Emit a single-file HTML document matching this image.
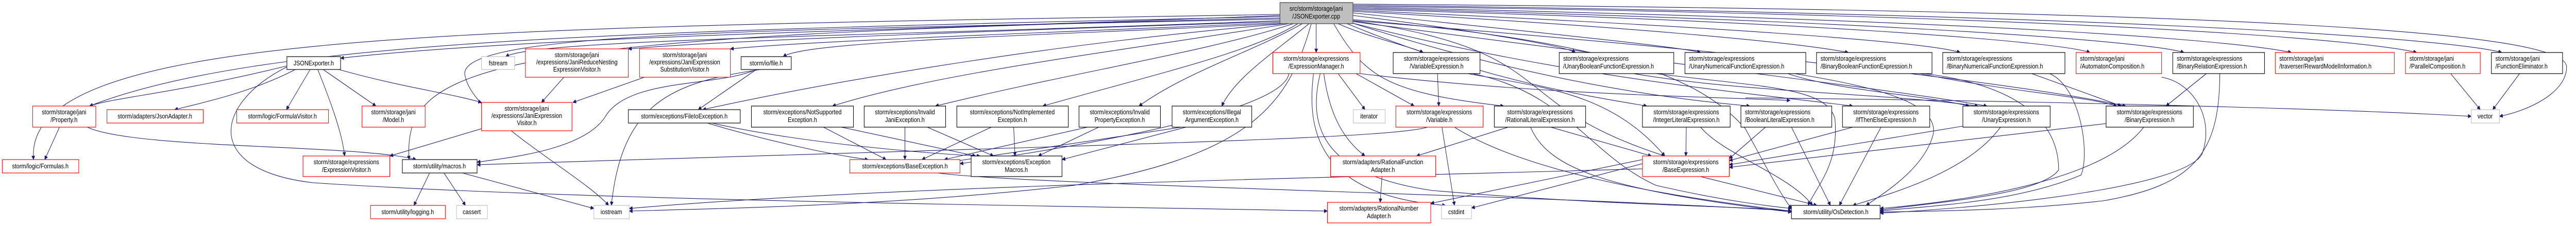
<!DOCTYPE html>
<html><head><meta charset="utf-8"><style>
html,body{margin:0;padding:0;background:#fff;width:100%;height:100%;overflow:hidden;}
svg{display:block;position:absolute;left:0;top:0;width:100%;height:100%;}
text{font-family:"Liberation Sans",sans-serif;font-size:12.5px;fill:#000;}
.e{fill:none;stroke:#191970;stroke-width:1.1;marker-end:url(#a);}
.b{fill:#fff;stroke:#000;stroke-width:1.2;}
.d{fill:#fff;stroke:#404040;stroke-width:1.6;}
.r{fill:#fff;stroke:#ff0000;stroke-width:1.2;}
.g{fill:#fff;stroke:#bfbfbf;stroke-width:1.2;}
</style></head><body>
<svg width="100%" height="100%" viewBox="0 0 5756 439" preserveAspectRatio="none" xmlns="http://www.w3.org/2000/svg">
<defs><marker id="a" viewBox="0 0 10 10" refX="10" refY="5" markerWidth="10" markerHeight="7" markerUnits="userSpaceOnUse" orient="auto"><path d="M0,0 L10,5 L0,10 z" fill="#191970" stroke="#191970"/></marker></defs>
<g>
<path class="e" d="M2860,30 C2000,60 1200,70 761,113"/>
<path class="e" d="M2860,28 C1000,55 50,60 75,310"/>
<path class="e" d="M2860,32 C1500,60 600,70 200,206"/>
<path class="e" d="M2860,35 C1100,70 900,120 914,310"/>
<path class="e" d="M2860,37 C1700,60 1000,60 1040,150 C1060,230 1300,340 1360,399"/>
<path class="e" d="M2860,40 C2000,70 1200,75 1130,110"/>
<path class="e" d="M2860,42 C2200,60 1600,80 1404,95"/>
<path class="e" d="M2860,44 C2300,65 1800,80 1632,95"/>
<path class="e" d="M2860,46 C2300,70 1800,80 1750,110"/>
<path class="e" d="M2870,46 C2400,80 1900,150 1570,213"/>
<path class="e" d="M2880,46 C2500,100 2100,140 1860,206"/>
<path class="e" d="M2890,46 C2700,100 2400,140 2090,206"/>
<path class="e" d="M2900,46 C2800,100 2600,140 2330,206"/>
<path class="e" d="M2910,46 C2800,100 2650,140 2545,206"/>
<path class="e" d="M2925,46 C2850,100 2760,150 2730,206"/>
<path class="e" d="M2930,46 C2880,200 2800,300 2400,360 C2000,400 1600,405 1406,410"/>
<path class="e" d="M2941,46 L2941,102"/>
<path class="e" d="M2990,46 C3050,70 3150,90 3180,102"/>
<path class="e" d="M3023,30 C3300,60 3500,90 3520,102"/>
<path class="e" d="M3023,25 C3400,60 3750,90 3800,102"/>
<path class="e" d="M3023,22 C3600,50 4000,80 4130,102"/>
<path class="e" d="M3023,20 C3800,50 4300,80 4380,102"/>
<path class="e" d="M3023,18 C4000,40 4600,80 4670,102"/>
<path class="e" d="M3023,16 C4200,40 4800,80 4880,102"/>
<path class="e" d="M3023,14 C4500,40 5000,80 5120,102"/>
<path class="e" d="M3023,12 C4700,30 5300,80 5400,102"/>
<path class="e" d="M3023,10 C4900,30 5500,80 5590,102"/>
<path class="e" d="M3023,8 C5000,20 5735,60 5735,130 C5735,180 5650,215 5585,226"/>
<path class="e" d="M2980,46 C3050,150 3100,180 3360,206"/>
<path class="e" d="M3010,46 C3300,150 3500,180 3680,206"/>
<path class="e" d="M3020,40 C3500,100 3350,200 3720,303"/>
<path class="e" d="M3023,45 C3400,150 3700,190 3910,206"/>
<path class="e" d="M3023,45 C3500,150 3900,180 4140,206"/>
<path class="e" d="M3023,42 C3700,120 4200,170 4440,206"/>
<path class="e" d="M3023,40 C3900,100 4500,160 4750,206"/>
<path class="e" d="M3023,38 C3600,80 3800,150 3900,250 C3950,330 3980,380 4003,405"/>
<path class="e" d="M641,128 C400,180 250,190 200,206"/>
<path class="e" d="M660,135 C560,180 450,200 390,213"/>
<path class="e" d="M693,135 L640,213"/>
<path class="e" d="M722,135 L840,206"/>
<path class="e" d="M710,135 C740,200 765,260 770,303"/>
<path class="e" d="M757,135 C900,170 1000,180 1076,199"/>
<path class="e" d="M641,130 C480,200 450,330 700,355 C1300,390 2400,400 2966,410"/>
<path class="e" d="M133,247 L100,310"/>
<path class="e" d="M195,247 C300,290 800,280 930,310"/>
<path class="e" d="M960,336 L925,399"/>
<path class="e" d="M992,336 L1040,399"/>
<path class="e" d="M1033,336 L1327,405"/>
<path class="e" d="M1260,150 L1210,199"/>
<path class="e" d="M1440,150 L1280,199"/>
<path class="e" d="M1076,250 L871,303"/>
<path class="e" d="M1690,135 L1560,213"/>
<path class="e" d="M1690,135 C1600,170 1400,150 1350,230 C1300,290 1150,305 1066,315"/>
<path class="e" d="M1700,135 C1500,160 1390,200 1366,399"/>
<path class="e" d="M1580,239 C1700,270 1850,300 1940,310"/>
<path class="e" d="M1590,239 C1800,280 2100,300 2190,303"/>
<path class="e" d="M1840,247 L1980,310"/>
<path class="e" d="M1880,247 L2180,303"/>
<path class="e" d="M2022,247 L2022,310"/>
<path class="e" d="M2072,247 L2220,303"/>
<path class="e" d="M2215,247 L2060,310"/>
<path class="e" d="M2265,247 L2268,303"/>
<path class="e" d="M2430,247 L2110,310"/>
<path class="e" d="M2455,247 L2320,303"/>
<path class="e" d="M2640,247 L2120,315"/>
<path class="e" d="M2650,247 L2373,310"/>
<path class="e" d="M2095,336 C2300,360 3500,380 4003,410"/>
<path class="e" d="M3190,247 C3100,270 2500,280 1066,320"/>
<path class="e" d="M2880,143 C2870,200 2600,260 2145,318"/>
<path class="e" d="M2990,143 L3050,213"/>
<path class="e" d="M3030,143 L3160,206"/>
<path class="e" d="M2958,143 C2970,220 3000,270 3050,303"/>
<path class="e" d="M2935,143 C2920,250 2940,380 3230,399"/>
<path class="e" d="M2950,143 C2920,250 2960,340 3200,370 C3600,400 3900,400 4003,410"/>
<path class="e" d="M3039,143 C3400,180 3700,185 4000,195"/>
<path class="e" d="M3212,143 L3215,206"/>
<path class="e" d="M3280,143 C3450,170 3600,180 3720,303"/>
<path class="e" d="M3290,143 C3500,180 3550,300 3700,360 C3850,390 3950,400 4003,405"/>
<path class="e" d="M3222,247 L3250,399"/>
<path class="e" d="M3250,247 C3400,330 3700,380 4003,410"/>
<path class="e" d="M3370,247 L3165,303"/>
<path class="e" d="M3465,247 L3690,303"/>
<path class="e" d="M3420,247 C3460,330 3600,370 4003,412"/>
<path class="e" d="M3768,247 L3767,303"/>
<path class="e" d="M3800,247 C3850,300 4000,340 4050,399"/>
<path class="e" d="M3670,310 L3197,395"/>
<path class="e" d="M3670,318 L3288,404"/>
<path class="e" d="M3800,343 L4060,399"/>
<path class="e" d="M3670,328 C3000,345 2000,360 1406,405"/>
<path class="e" d="M3088,343 L3084,393"/>
<path class="e" d="M3945,247 L3864,308"/>
<path class="e" d="M4003,247 L4090,399"/>
<path class="e" d="M4140,247 L3864,312"/>
<path class="e" d="M4203,247 L4110,399"/>
<path class="e" d="M4386,245 L3864,320"/>
<path class="e" d="M4470,247 C4400,330 4250,370 4140,399"/>
<path class="e" d="M4706,240 L3864,325"/>
<path class="e" d="M4790,247 C4700,350 4400,390 4201,405"/>
<path class="e" d="M3650,143 C3900,180 4200,180 4420,206"/>
<path class="e" d="M3700,143 C3950,170 4080,170 4100,230 C4110,320 4060,360 4040,399"/>
<path class="e" d="M3995,143 C4100,175 4300,185 4400,206"/>
<path class="e" d="M4010,143 C4200,170 4330,200 4320,260 C4300,330 4200,380 4170,399"/>
<path class="e" d="M4290,143 C4500,180 4650,185 4730,206"/>
<path class="e" d="M4300,143 C4550,170 4600,260 4600,330 C4560,380 4300,395 4201,408"/>
<path class="e" d="M4540,143 L4740,206"/>
<path class="e" d="M4580,143 C4650,170 4670,300 4650,340 C4500,395 4300,400 4201,410"/>
<path class="e" d="M4930,143 L4840,206"/>
<path class="e" d="M4960,143 C4960,300 4900,360 4700,390 C4500,410 4300,410 4201,412"/>
<path class="e" d="M4830,150 C4900,160 4950,230 4920,300 C4880,360 4500,400 4201,414"/>
<path class="e" d="M3900,190 C4500,195 5200,210 5522,226"/>
<path class="e" d="M5476,143 L5542,213"/>
<path class="e" d="M5630,143 L5570,213"/>
</g>
<g>
<rect x="2860" y="5" width="163" height="41" fill="#bfbfbf" stroke="#404040" stroke-width="1.2"/>
<text x="2941" y="21" text-anchor="middle">src/storm/storage/jani</text><text x="2941" y="36" text-anchor="middle">/JSONExporter.cpp</text>

<rect class="d" x="641" y="110" width="120" height="25"/><text x="701" y="127" text-anchor="middle">JSONExporter.h</text>
<rect class="r" x="73" y="206" width="141" height="41"/><text x="143" y="222" text-anchor="middle">storm/storage/jani</text><text x="143" y="237" text-anchor="middle">/Property.h</text>
<rect class="r" x="239" y="213" width="215" height="26"/><text x="346" y="230" text-anchor="middle">storm/adapters/JsonAdapter.h</text>
<rect class="r" x="529" y="213" width="205" height="26"/><text x="631" y="230" text-anchor="middle">storm/logic/FormulaVisitor.h</text>
<rect class="r" x="809" y="206" width="141" height="41"/><text x="879" y="222" text-anchor="middle">storm/storage/jani</text><text x="879" y="237" text-anchor="middle">/Model.h</text>
<rect class="r" x="5" y="310" width="171" height="26"/><text x="90" y="327" text-anchor="middle">storm/logic/Formulas.h</text>
<rect class="r" x="677" y="303" width="194" height="40"/><text x="774" y="319" text-anchor="middle">storm/storage/expressions</text><text x="774" y="334" text-anchor="middle">/ExpressionVisitor.h</text>
<rect class="d" x="899" y="310" width="167" height="26"/><text x="982" y="327" text-anchor="middle">storm/utility/macros.h</text>
<rect class="r" x="828" y="399" width="167" height="26"/><text x="911" y="416" text-anchor="middle">storm/utility/logging.h</text>
<rect class="g" x="1076" y="110" width="74" height="25"/><text x="1113" y="127" text-anchor="middle">fstream</text>
<rect class="r" x="1174" y="95" width="230" height="55"/><text x="1289" y="111" text-anchor="middle">storm/storage/jani</text><text x="1289" y="125" text-anchor="middle">/expressions/JaniReduceNesting</text><text x="1289" y="139" text-anchor="middle">ExpressionVisitor.h</text>
<rect class="r" x="1429" y="95" width="203" height="55"/><text x="1530" y="111" text-anchor="middle">storm/storage/jani</text><text x="1530" y="125" text-anchor="middle">/expressions/JaniExpression</text><text x="1530" y="139" text-anchor="middle">SubstitutionVisitor.h</text>
<rect class="d" x="1656" y="110" width="112" height="25"/><text x="1712" y="127" text-anchor="middle">storm/io/file.h</text>
<rect class="r" x="1076" y="199" width="202" height="55"/><text x="1177" y="215" text-anchor="middle">storm/storage/jani</text><text x="1177" y="229" text-anchor="middle">/expressions/JaniExpression</text><text x="1177" y="243" text-anchor="middle">Visitor.h</text>
<rect class="d" x="1404" y="213" width="250" height="26"/><text x="1529" y="230" text-anchor="middle">storm/exceptions/FileIoException.h</text>
<rect class="b" x="1679" y="206" width="228" height="41"/><text x="1793" y="222" text-anchor="middle">storm/exceptions/NotSupported</text><text x="1793" y="237" text-anchor="middle">Exception.h</text>
<rect class="g" x="1020" y="399" width="69" height="26"/><text x="1054" y="416" text-anchor="middle">cassert</text>
<rect class="g" x="1327" y="399" width="79" height="26"/><text x="1366" y="416" text-anchor="middle">iostream</text>
<rect class="r" x="1899" y="310" width="246" height="26"/><text x="2022" y="327" text-anchor="middle">storm/exceptions/BaseException.h</text>
<rect class="b" x="1931" y="206" width="182" height="41"/><text x="2022" y="222" text-anchor="middle">storm/exceptions/Invalid</text><text x="2022" y="237" text-anchor="middle">JaniException.h</text>
<rect class="b" x="2138" y="206" width="249" height="41"/><text x="2262" y="222" text-anchor="middle">storm/exceptions/NotImplemented</text><text x="2262" y="237" text-anchor="middle">Exception.h</text>
<rect class="b" x="2411" y="206" width="182" height="41"/><text x="2502" y="222" text-anchor="middle">storm/exceptions/Invalid</text><text x="2502" y="237" text-anchor="middle">PropertyException.h</text>
<rect class="b" x="2619" y="206" width="178" height="41"/><text x="2708" y="222" text-anchor="middle">storm/exceptions/Illegal</text><text x="2708" y="237" text-anchor="middle">ArgumentException.h</text>
<rect class="b" x="2170" y="303" width="203" height="40"/><text x="2271" y="319" text-anchor="middle">storm/exceptions/Exception</text><text x="2271" y="334" text-anchor="middle">Macros.h</text>
<rect class="r" x="2844" y="102" width="195" height="41"/><text x="2941" y="118" text-anchor="middle">storm/storage/expressions</text><text x="2941" y="133" text-anchor="middle">/ExpressionManager.h</text>
<rect class="b" x="3113" y="102" width="194" height="41"/><text x="3210" y="118" text-anchor="middle">storm/storage/expressions</text><text x="3210" y="133" text-anchor="middle">/VariableExpression.h</text>
<rect class="b" x="3484" y="102" width="256" height="41"/><text x="3493" y="118">storm/storage/expressions</text><text x="3493" y="133">/UnaryBooleanFunctionExpression.h</text>
<rect class="b" x="3765" y="102" width="270" height="41"/><text x="3774" y="118">storm/storage/expressions</text><text x="3774" y="133">/UnaryNumericalFunctionExpression.h</text>
<rect class="g" x="3024" y="213" width="71" height="26"/><text x="3059" y="230" text-anchor="middle">iterator</text>
<rect class="r" x="3119" y="206" width="195" height="41"/><text x="3216" y="222" text-anchor="middle">storm/storage/expressions</text><text x="3216" y="237" text-anchor="middle">/Variable.h</text>
<rect class="b" x="3339" y="206" width="204" height="41"/><text x="3441" y="222" text-anchor="middle">storm/storage/expressions</text><text x="3441" y="237" text-anchor="middle">/RationalLiteralExpression.h</text>
<rect class="b" x="3670" y="206" width="196" height="41"/><text x="3768" y="222" text-anchor="middle">storm/storage/expressions</text><text x="3768" y="237" text-anchor="middle">/IntegerLiteralExpression.h</text>
<rect class="r" x="2973" y="303" width="235" height="40"/><text x="3090" y="319" text-anchor="middle">storm/adapters/RationalFunction</text><text x="3090" y="334" text-anchor="middle">Adapter.h</text>
<rect class="r" x="3670" y="303" width="194" height="40"/><text x="3767" y="319" text-anchor="middle">storm/storage/expressions</text><text x="3767" y="334" text-anchor="middle">/BaseExpression.h</text>
<rect class="r" x="2966" y="393" width="231" height="40"/><text x="3081" y="409" text-anchor="middle">storm/adapters/RationalNumber</text><text x="3081" y="424" text-anchor="middle">Adapter.h</text>
<rect class="g" x="3221" y="399" width="67" height="26"/><text x="3254" y="416" text-anchor="middle">cstdint</text>
<rect class="b" x="4059" y="102" width="258" height="41"/><text x="4068" y="118">storm/storage/expressions</text><text x="4068" y="133">/BinaryBooleanFunctionExpression.h</text>
<rect class="b" x="4341" y="102" width="273" height="41"/><text x="4350" y="118">storm/storage/expressions</text><text x="4350" y="133">/BinaryNumericalFunctionExpression.h</text>
<rect class="r" x="4639" y="102" width="191" height="41"/><text x="4648" y="118">storm/storage/jani</text><text x="4648" y="133">/AutomatonComposition.h</text>
<rect class="b" x="3890" y="206" width="203" height="41"/><text x="3899" y="222">storm/storage/expressions</text><text x="3899" y="237">/BooleanLiteralExpression.h</text>
<rect class="b" x="4117" y="206" width="195" height="41"/><text x="4214" y="222" text-anchor="middle">storm/storage/expressions</text><text x="4214" y="237" text-anchor="middle">/IfThenElseExpression.h</text>
<rect class="b" x="4386" y="206" width="195" height="41"/><text x="4483" y="222" text-anchor="middle">storm/storage/expressions</text><text x="4483" y="237" text-anchor="middle">/UnaryExpression.h</text>
<rect class="b" x="4706" y="206" width="195" height="41"/><text x="4803" y="222" text-anchor="middle">storm/storage/expressions</text><text x="4803" y="237" text-anchor="middle">/BinaryExpression.h</text>
<rect class="d" x="4003" y="399" width="198" height="26"/><text x="4102" y="416" text-anchor="middle">storm/utility/OsDetection.h</text>
<rect class="b" x="4855" y="102" width="205" height="41"/><text x="4864" y="118">storm/storage/expressions</text><text x="4864" y="133">/BinaryRelationExpression.h</text>
<rect class="r" x="5084" y="102" width="266" height="41"/><text x="5093" y="118">storm/storage/jani</text><text x="5093" y="133">/traverser/RewardModelInformation.h</text>
<rect class="r" x="5375" y="102" width="167" height="41"/><text x="5384" y="118">storm/storage/jani</text><text x="5384" y="133">/ParallelComposition.h</text>
<rect class="b" x="5567" y="102" width="159" height="41"/><text x="5576" y="118">storm/storage/jani</text><text x="5576" y="133">/FunctionEliminator.h</text>
<rect class="g" x="5522" y="213" width="63" height="26"/><text x="5553" y="230" text-anchor="middle">vector</text>
</g>
</svg>
</body></html>
